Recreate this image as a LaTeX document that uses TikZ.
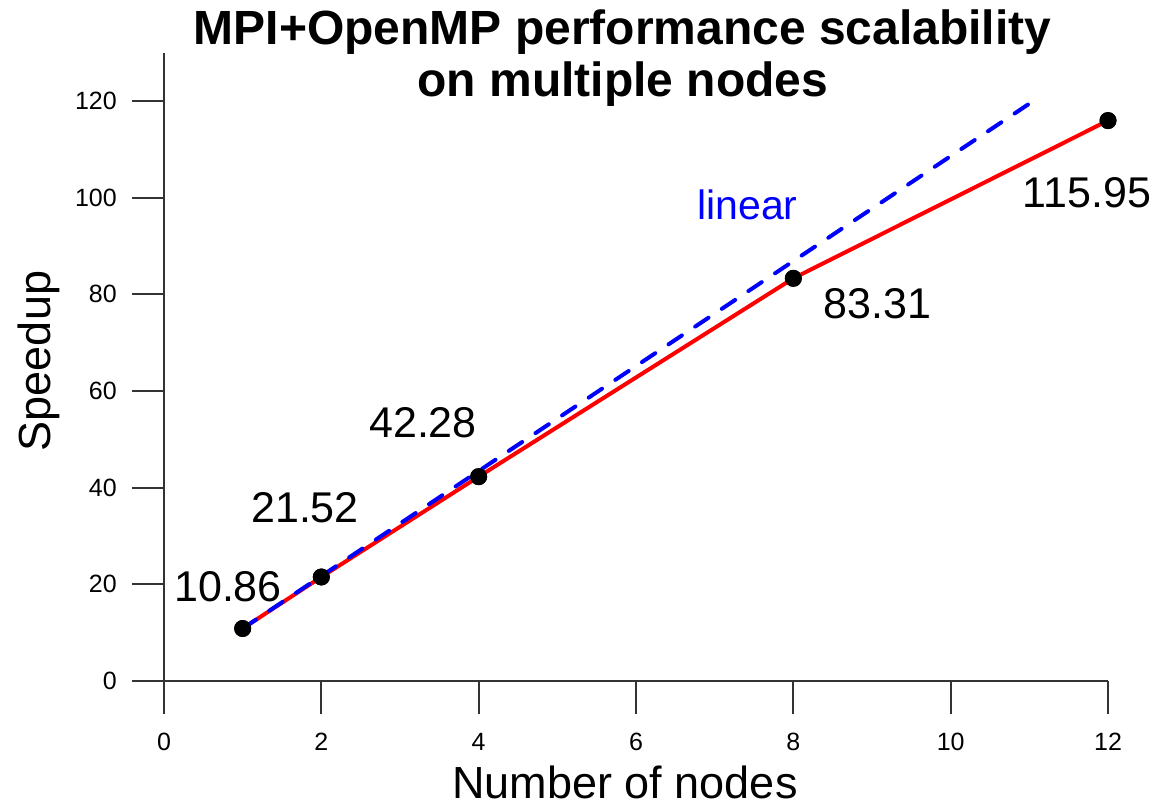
\documentclass[tikz,border=0pt]{standalone}
\usepackage{fontspec}
\setmainfont{Liberation Sans}
\definecolor{axisgray}{HTML}{333333}
\definecolor{seriesred}{RGB}{255,0,0}
\definecolor{seriesblue}{RGB}{0,0,255}
\begin{document}
\begin{tikzpicture}[
  axisline/.style={draw=axisgray, line width=2.2pt},
  ticklabel/.style={font=\fontsize{25}{25}\selectfont, inner sep=0pt},
  vallabel/.style={font=\fontsize{43}{43}\selectfont, inner sep=0pt, anchor=base},
  titletext/.style={font=\fontsize{48}{48}\selectfont\bfseries, inner sep=0pt, anchor=base},
  axistitle/.style={font=\fontsize{45}{45}\selectfont, inner sep=0pt, anchor=base},
  dot/.style={circle, fill=black, minimum size=17pt, inner sep=0pt},
  measured/.style={draw=seriesred, line width=4pt, line join=round},
  ideal/.style={draw=seriesblue, line width=4pt, line cap=round, dash pattern=on 16pt off 16pt},
]
\useasboundingbox (0,0) rectangle (1156pt,803pt);

% title
\node[titletext] (title1) at (622.5pt,758pt) {MPI+OpenMP performance scalability};
\node[titletext] (title2) at (623pt,706pt) {on multiple nodes};

% axis titles
\node[axistitle, text depth=0pt] (xtitle) at (625pt,5pt) {Number of nodes};
\node[axistitle, rotate=90] (ytitle) at (50pt,442pt) {Speedup};

\begin{scope}[shift={(164pt,122pt)}, x=78.667pt, y=4.8333pt]
  % axes
  \coordinate (o) at (0,0);
  \coordinate (xend) at (12,0);
  \coordinate (yend) at (0,130);
  \draw[axisline] (yend) -- (o) -- (xend);
  \foreach \v in {0,2,...,12} {
    \coordinate (xt\v) at (\v,0);
    \draw[axisline] (xt\v) -- ++(0pt,-33pt);
    \node[ticklabel] (xl\v) at ([yshift=-61pt]xt\v) {\v};
  }
  \foreach \v in {0,20,...,120} {
    \coordinate (yt\v) at (0,\v);
    \draw[axisline] (yt\v) -- ++(-32pt,0pt);
    \node[ticklabel, anchor=east] (yl\v) at ([xshift=-47pt]yt\v) {\v};
  }

  % measured speedup
  \node[dot] (p1) at (1,10.86) {};
  \node[dot] (p2) at (2,21.52) {};
  \node[dot] (p4) at (4,42.28) {};
  \node[dot] (p8) at (8,83.31) {};
  \node[dot] (p12) at (12,115.95) {};
  \coordinate (linend) at (11.05,120);

  \draw[measured] (p1.center) -- (p2.center) -- (p4.center) -- (p8.center) -- (p12.center);
  \draw[ideal] (p1.center) -- (linend);

  % redraw dots on top of the lines
  \foreach \p in {p1,p2,p4,p8,p12} {
    \fill (\p) circle (8.5pt);
  }
\end{scope}

% value labels
\node[vallabel] (l1) at (228pt,201pt) {10.86};
\node[vallabel] (l2) at (305pt,280pt) {21.52};
\node[vallabel] (l4) at (423pt,365pt) {42.28};
\node[vallabel] (l8) at (877.5pt,484pt) {83.31};
\node[vallabel] (l12) at (1087pt,595pt) {115.95};
\node[vallabel, text=seriesblue, font=\fontsize{41}{41}\selectfont] (lin) at (747.5pt,583pt) {linear};
\end{tikzpicture}
\end{document}
